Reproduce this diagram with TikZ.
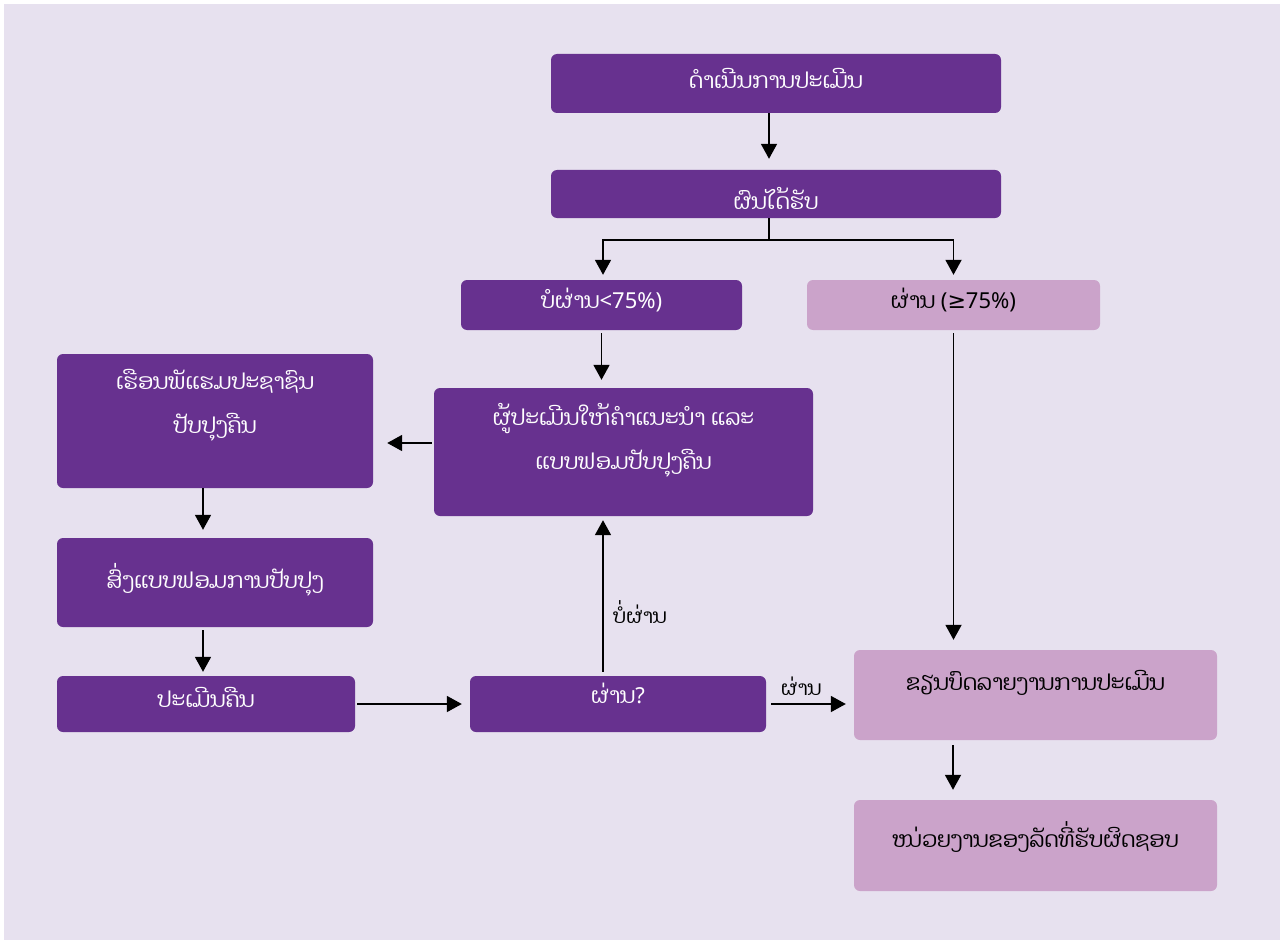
\documentclass[tikz,border=0pt]{standalone}
\usepackage{fontspec}
\setmainfont{Noto Sans}
\newfontfamily\laofont[Script=Lao]{Dhyana}
\newfontfamily\signfont{DejaVu Sans}
\usetikzlibrary{arrows.meta}
\definecolor{bgpurple}{HTML}{E7E1EF}
\definecolor{deeppurple}{HTML}{67318F}
\definecolor{softpink}{HTML}{CBA3CA}
\tikzset{
  darkbox/.style={fill=deeppurple, rounded corners=6pt, inner sep=0pt},
  lightbox/.style={fill=softpink, rounded corners=6pt, inner sep=0pt},
  wtext/.style={text=white, font=\laofont\fontsize{22}{44}\selectfont, align=center},
  btext/.style={text=black, font=\laofont\fontsize{22}{44}\selectfont, align=center},
  arr/.style={-{Triangle[width=16pt,length=15pt]}, line width=1.8pt},
}
\begin{document}
\begin{tikzpicture}[x=1pt, y=-1pt]
        \fill [white] (0,0) rectangle (1284,944);
        \fill [bgpurple] (4,4) rectangle (1280,940);

        \node [darkbox, minimum width=450pt, minimum height=59pt] (start) at (776,83.5) {};
        \node [darkbox, minimum width=450pt, minimum height=48pt] (result) at (776,194) {};
        \node [darkbox, minimum width=281pt, minimum height=50pt] (fail) at (601.5,305) {};
        \node [lightbox, minimum width=293pt, minimum height=50pt] (pass) at (953.5,305) {};
        \node [darkbox, minimum width=379pt, minimum height=128pt] (advice) at (623.5,452) {};
        \node [darkbox, minimum width=316pt, minimum height=134pt] (home) at (215,421) {};
        \node [darkbox, minimum width=316pt, minimum height=89pt] (send) at (215,582.5) {};
        \node [darkbox, minimum width=298pt, minimum height=56pt] (reeval) at (206,704) {};
        \node [darkbox, minimum width=296pt, minimum height=56pt] (check) at (618,704) {};
        \node [lightbox, minimum width=363pt, minimum height=90pt] (report) at (1035.5,695) {};
        \node [lightbox, minimum width=363pt, minimum height=91pt] (office) at (1035.5,845.5) {};

        % texts
        \node [wtext] (startt) at (776,78) {ດຳເນີນການປະເມີນ};
        \node [wtext] (resultt) at (776,198) {ຜົນໄດ້ຮັບ};
        \node [wtext] (failt) at (601.5,300) {ບໍຜ່ານ\normalfont<75\%)};
        \node [btext] (passt) at (953.5,300) {ຜ່ານ \normalfont(\signfont≥\normalfont75\%)};
        \node [wtext] (advicet) at (623.5,440) {ຜູ້ປະເມີນໃຫ້ຄຳແນະນຳ ແລະ\\ແບບຟອມປັບປຸງຄືນ};
        \node [wtext] (homet) at (215,405.5) {ເຮືອນພັແຮມປະຊາຊົນ\\ປັບປຸງຄືນ};
        \node [wtext] (sendt) at (215,580) {ສົ່ງແບບຟອມການປັບປຸງ};
        \node [wtext] (reevalt) at (206,697) {ປະເມີນຄືນ};
        \node [wtext] (checkt) at (618,693) {ຜ່ານ\normalfont?};
        \node [btext] (reportt) at (1035.5,683) {ຂຽນບົດລາຍງານການປະເມີນ};
        \node [btext] (officet) at (1035.5,837) {ໜ່ວຍງານຂອງລັດທີ່ຮັບຜິດຊອບ};

        % arrows
        \draw [arr, shorten >=11pt] ([xshift=-7pt]start.south) -- ([xshift=-7pt]result.north);
        \draw [line width=1.8pt] ([xshift=-7pt]result.south) -- ++(0,22) coordinate (split);
        \draw [arr, shorten >=5pt] (split) -| ([xshift=1.5pt]fail.north); % Left
        \draw [arr, shorten >=5pt] (split) -| (pass.north); % Right
        \draw [arr, shorten <=3pt, shorten >=8pt] (fail.south) -- (fail.south |- advice.north);
        \draw [arr, shorten <=3pt, shorten >=10pt] (pass.south) -- (pass.south |- report.north);
        \draw [arr, shorten <=2pt, shorten >=14pt] ([yshift=9pt]advice.west) -- ([yshift=9pt]advice.west -| home.east);
        \draw [arr, shorten >=8pt] ([xshift=-12pt]home.south) -- ([xshift=-12pt]home.south |- send.north);
        \draw [arr, shorten <=3pt, shorten >=4pt] ([xshift=-12pt]send.south) -- ([xshift=-12pt]send.south |- reeval.north);
        \draw [arr, shorten <=2pt, shorten >=8pt] (reeval.east) -- (check.west);
        \draw [arr, shorten <=4pt, shorten >=4pt] ([xshift=-15pt]check.north) -- ([xshift=-15pt]check.north |- advice.south)
            node [pos=0.4, right=6pt, font=\laofont\fontsize{20}{22}\selectfont] (nolabel) {ບໍ່ຜ່ານ};
        \draw [arr, shorten <=5pt, shorten >=8pt] (check.east) -- (check.east -| report.west)
            node [pos=0.4, above=4pt, font=\laofont\fontsize{20}{22}\selectfont] (yeslabel) {ຜ່ານ};
        \draw [arr, shorten <=5pt, shorten >=10pt] ([xshift=-82.5pt]report.south) -- ([xshift=-82.5pt]report.south |- office.north);
    \end{tikzpicture}
\end{document}
